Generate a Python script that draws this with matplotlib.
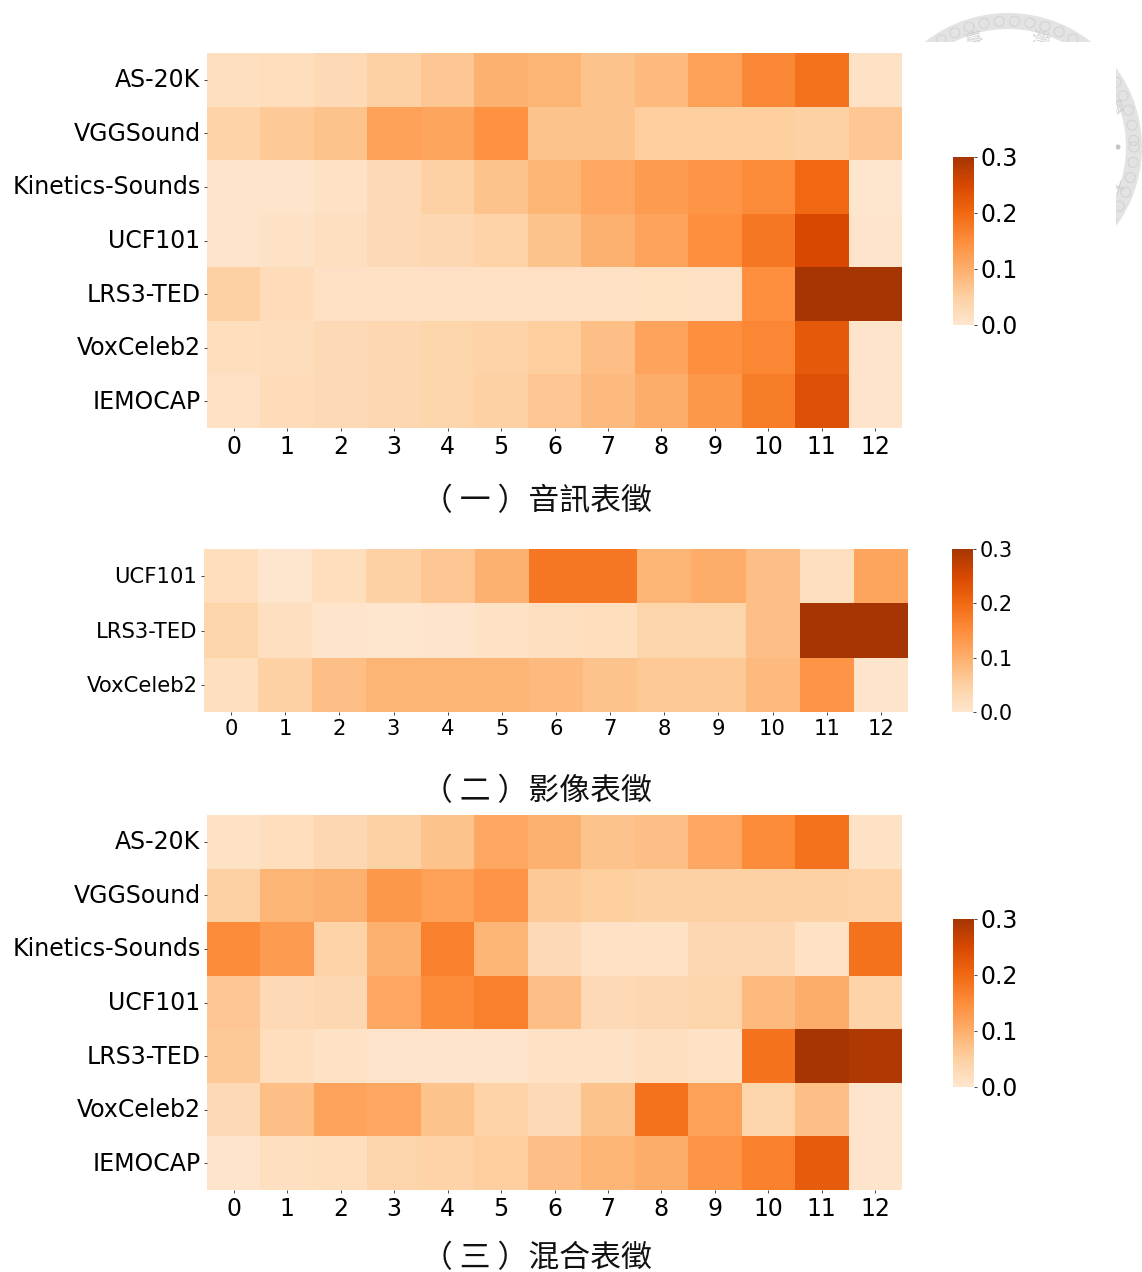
import matplotlib
matplotlib.use('Agg')
import matplotlib.pyplot as plt
from matplotlib.colors import LinearSegmentedColormap
from matplotlib.patches import Rectangle, Wedge, Circle
from matplotlib.transforms import Affine2D
import numpy as np

W, H = 1142, 1272

columns = list(range(13))
labels_all = ['AS-20K', 'VGGSound', 'Kinetics-Sounds', 'UCF101', 'LRS3-TED', 'VoxCeleb2', 'IEMOCAP']
labels_video = ['UCF101', 'LRS3-TED', 'VoxCeleb2']

audio = [
    [.015, .020, .030, .050, .065, .097, .090, .070, .083, .120, .157, .187, .010],
    [.045, .060, .070, .120, .115, .142, .070, .070, .055, .055, .055, .050, .065],
    [.006, .006, .010, .030, .050, .070, .090, .110, .130, .140, .153, .200, .002],
    [.006, .010, .015, .030, .035, .045, .070, .097, .117, .147, .180, .250, .005],
    [.050, .025, .012, .012, .012, .012, .012, .012, .014, .012, .147, .300, .300],
    [.020, .022, .030, .035, .040, .045, .055, .077, .117, .147, .160, .223, .006],
    [.012, .025, .030, .035, .040, .050, .065, .083, .103, .135, .173, .237, .006],
]
video = [
    [.020, .002, .020, .050, .065, .097, .180, .180, .090, .103, .077, .015, .115],
    [.040, .015, .006, .002, .006, .010, .015, .020, .040, .040, .077, .300, .300],
    [.015, .050, .077, .090, .090, .090, .083, .070, .060, .060, .083, .140, .005],
]
mixed = [
    [.010, .020, .035, .050, .070, .110, .097, .070, .077, .110, .153, .187, .010],
    [.050, .090, .097, .135, .120, .140, .060, .055, .050, .050, .050, .050, .045],
    [.153, .130, .045, .097, .167, .090, .030, .010, .010, .035, .035, .010, .187],
    [.065, .030, .035, .110, .153, .167, .077, .030, .035, .040, .083, .103, .045],
    [.060, .020, .010, .006, .006, .006, .010, .010, .015, .010, .187, .300, .290],
    [.030, .077, .117, .110, .070, .045, .030, .070, .187, .120, .040, .077, .005],
    [.005, .015, .020, .040, .045, .055, .077, .090, .103, .140, .167, .220, .005],
]
cbar_ticks = [0.0, 0.1, 0.2, 0.3]
captions = ['（ 一 ）音訊表徵', '（ 二 ）影像表徵', '（ 三 ）混合表徵']

CJK = ['Noto Sans CJK TC', 'DejaVu Sans']

# only the middle of Oranges is used in the reference
cut_cmap = LinearSegmentedColormap.from_list(
    'oranges_cut', plt.get_cmap('Oranges')(np.linspace(0.125, 0.875, 256)))


def box(fig, left, top, right, bottom):
    # pixel box from the top left corner -> figure axes
    return fig.add_axes([left / W, 1 - bottom / H, (right - left) / W, (bottom - top) / H])


def nudge(tick_labels, dy):
    for label in tick_labels:
        label.set_transform(label.get_transform() + Affine2D().translate(0, dy))


def heatmap(fig, data, labels, heat_box, cbar_box, size, cbar_size, dy):
    ax = box(fig, *heat_box)
    mesh = ax.pcolormesh(np.array(data), cmap=cut_cmap, vmin=0, vmax=0.3)
    ax.invert_yaxis()
    ax.set_xticks(np.arange(len(columns)) + 0.5, columns, fontsize=size)
    ax.set_yticks(np.arange(len(labels)) + 0.5, labels, fontsize=size)
    ax.tick_params(axis='y', length=2.5, width=0.7, pad=2.2, color='#444444')
    ax.tick_params(axis='x', length=2.5, width=0.7, pad=2.7, color='#444444')
    nudge(ax.get_yticklabels(), dy)
    for spine in ax.spines.values():
        spine.set_visible(False)
    cax = box(fig, *cbar_box)
    cbar = fig.colorbar(mesh, cax=cax, ticks=cbar_ticks)
    cbar.outline.set_visible(False)
    cbar.ax.tick_params(labelsize=cbar_size, length=2.5, width=0.7, pad=2.5, color='#444444')
    return ax


def seal(fig):
    bg = fig.add_axes([0, 0, 1, 1], zorder=-1)
    bg.set_xlim(0, W)
    bg.set_ylim(H, 0)
    bg.axis('off')
    cx, cy, r = 1008, 147, 134
    bg.add_patch(Wedge((cx, cy), r, 0, 360, width=16, fc='#e3e3e3', ec='none'))
    for a in np.arange(0, 360, 7):
        x = cx + (r - 8) * np.cos(np.radians(a))
        y = cy + (r - 8) * np.sin(np.radians(a))
        bg.add_patch(Circle((x, y), 5, fc='none', ec='#d3d3d3', lw=0.8))
    bg.text(975, 41, '臺', family=CJK, fontsize=14, color='#d0d0d0', ha='center', va='center', rotation=14)
    bg.text(1040, 41, '灣', family=CJK, fontsize=14, color='#d0d0d0', ha='center', va='center', rotation=-14)
    bg.add_patch(Circle((1118, 147), 2.5, fc='#c4c4c4', ec='none'))
    bg.text(1114, 186, '大', family=CJK, fontsize=12, color='#d0d0d0', ha='center', va='center', rotation=-105)
    bg.text(1113, 107, '學', family=CJK, fontsize=12, color='#d0d0d0', ha='center', va='center', rotation=-75)
    # white panel that hides the middle of the seal
    bg.add_patch(Rectangle((880, 42), 236, 270, fc='white', ec='none', zorder=5))


def main():
    fig = plt.figure(figsize=(W / 100, H / 100), dpi=100)
    seal(fig)

    heatmap(fig, audio, labels_all, (207, 53, 902, 428), (953, 157, 974, 325), 17, 17, 2)
    heatmap(fig, video, labels_video, (204, 549, 908, 712), (952, 549, 973, 712), 15.2, 15, 1)
    heatmap(fig, mixed, labels_all, (207, 815, 902, 1190), (953, 919, 974, 1087), 17, 17, 2)

    for text, y in zip(captions, [501.5, 791.5, 1258.5]):
        fig.text(652 / W, 1 - y / H, text, family=CJK, fontsize=22.2,
                 ha='right', va='center', color='#111111')

    fig.savefig('out.png', dpi=100)


if __name__ == '__main__':
    main()
